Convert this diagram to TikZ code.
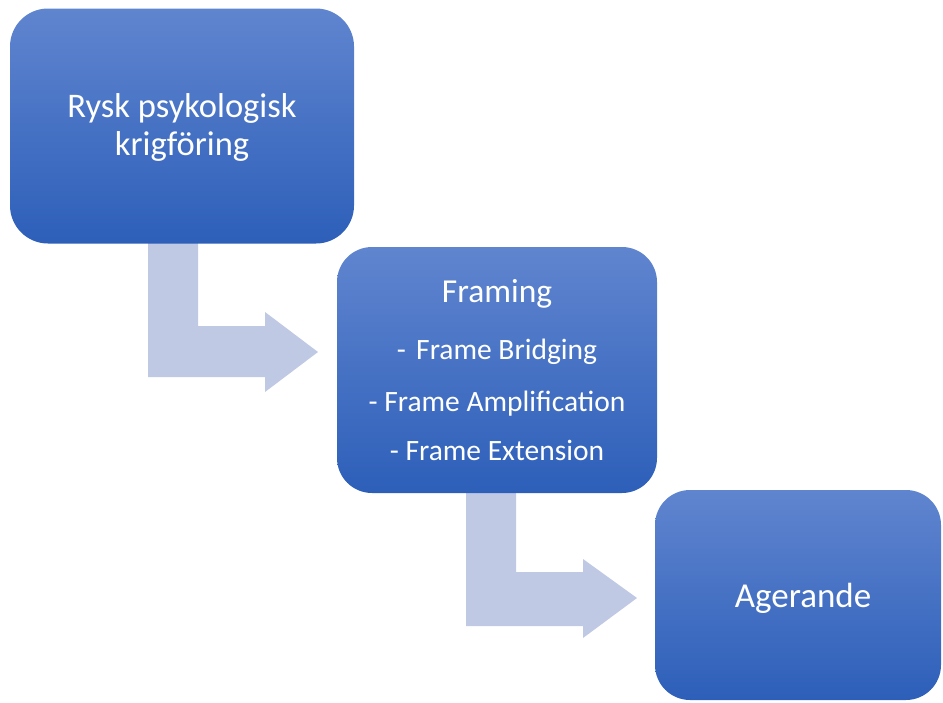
\documentclass[tikz,border=0pt]{standalone}
\usepackage{fontspec}
\setmainfont{Carlito}
\definecolor{boxtop}{RGB}{96,133,207}
\definecolor{boxbot}{RGB}{45,95,185}
\definecolor{arrowfill}{RGB}{192,201,228}
\tikzset{
  flowbox/.style={rectangle, rounded corners=38pt, top color=boxtop, bottom color=boxbot, draw=none, inner sep=0pt},
  boxtext/.style={text=white, anchor=base, inner sep=0pt},
  bentarrow/.style={fill=arrowfill, draw=none},
}
\begin{document}
\begin{tikzpicture}[x=1pt,y=-1pt]
\useasboundingbox (0,0) rectangle (943,702);
% bent arrows (behind boxes)
\fill[bentarrow] (148,238) -- (198,238) -- (198,326) -- (265,326) -- (265,312) -- (318,352) -- (265,392) -- (265,377) -- (148,377) -- cycle;
\fill[bentarrow] (466,488) -- (516,488) -- (516,572) -- (583,572) -- (583,559) -- (637,598) -- (583,638) -- (583,626) -- (466,626) -- cycle;
% boxes
\node[flowbox, minimum width=344pt, minimum height=235pt] (b1) at (182,126) {};
\node[flowbox, minimum width=320pt, minimum height=246pt, rounded corners=35pt] (b2) at (497,370) {};
\node[flowbox, minimum width=286pt, minimum height=210pt, rounded corners=35pt] (b3) at (798,595) {};
% texts
\node[boxtext, font=\fontsize{34.5}{40}\selectfont] (t1a) at (182,117) {Rysk psykologisk};
\node[boxtext, font=\fontsize{34.5}{40}\selectfont] (t1b) at (182,155) {krigföring};
\node[boxtext, font=\fontsize{33.5}{40}\selectfont] (t2) at (497,302) {Framing};
\node[boxtext, font=\fontsize{29.5}{35}\selectfont] (t2a) at (497,359) {-\hspace{0.35em}Frame Bridging};
\node[boxtext, font=\fontsize{29.5}{35}\selectfont] (t2b) at (497,411) {- Frame Amplification};
\node[boxtext, font=\fontsize{29.5}{35}\selectfont] (t2c) at (497,460) {- Frame Extension};
\node[boxtext, font=\fontsize{35}{42}\selectfont] (t3) at (803,607) {Agerande};
\end{tikzpicture}
\end{document}
